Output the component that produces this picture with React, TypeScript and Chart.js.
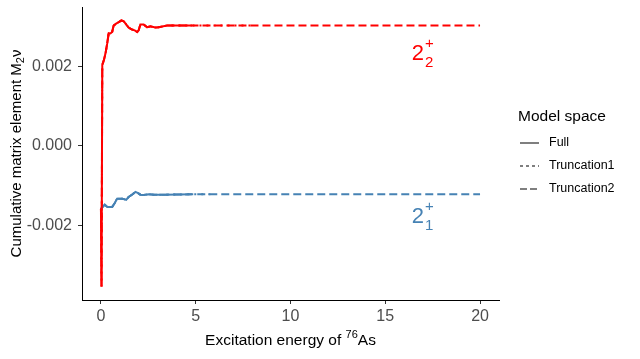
import React, { useEffect, useRef } from "react";
import { Chart, registerables } from "chart.js";

Chart.register(...registerables);

const RED = "#FF0000";
const BLUE = "#4682B4";
const FONT = "'Liberation Sans', Arial, sans-serif";

// 2_2^+ state (red)
const redEnergy = [0, 0.03, 0.07, 0.15, 0.24, 0.33, 0.41, 0.5, 0.59, 0.67, 0.8, 0.94, 1.08, 1.2, 1.33, 1.46, 1.64, 1.78, 1.91, 1.99, 2.08, 2.25, 2.43, 2.61, 2.87, 3.04, 3.48, 4.8];
const redFull = [-0.00158, -0.00355, 0.00205, 0.00216, 0.00234, 0.00259, 0.00285, 0.00284, 0.00288, 0.00304, 0.00309, 0.00313, 0.00317, 0.00315, 0.00307, 0.00299, 0.00294, 0.00292, 0.00288, 0.00292, 0.00307, 0.00307, 0.003, 0.00302, 0.00299, 0.003, 0.00304, 0.00304];
const redTruncEnd = [8, 20]; // Truncation1, Truncation2 last energies
const redTruncValue = [0.00304, 0.00304];

// 2_1^+ state (blue)
const blueEnergy = [0, 0.2, 0.33, 0.59, 0.73, 0.85, 1.12, 1.33, 1.46, 1.64, 1.82, 1.96, 2.08, 2.25, 2.52, 2.78, 3.04, 3.39, 4.8];
const blueFull = [-0.00159, -0.00148, -0.00154, -0.00154, -0.00144, -0.00133, -0.00133, -0.00136, -0.00129, -0.00123, -0.00116, -0.00119, -0.00123, -0.00124, -0.00122, -0.00123, -0.00123, -0.00123, -0.00122];
const blueTruncEnd = [6, 20];
const blueTruncValue = [-0.00122, -0.00122];

const xTicks = [0, 5, 10, 15, 20];
const yTicks = [-0.002, 0, 0.002];
const yTickLabels = ["-0.002", "0.000", "0.002"];

const legendLabels = ["Full", "Truncation1", "Truncation2"];
const legendDashes: number[][] = [[], [3, 3], [7, 3]];
const lineDashes: number[][] = [[], [2, 5], [8, 4]];

const stateLabelEnergy = 16.4;
const redLabelValue = 0.00216;
const blueLabelValue = -0.00194;

function pts(xs: number[], ys: number[]) {
  return xs.map((x, i) => ({ x, y: ys[i] }));
}

const overlay = {
  id: "overlay",
  afterDraw(chart: any) {
    const ctx = chart.ctx as CanvasRenderingContext2D;
    const xs = chart.scales.x;
    const ys = chart.scales.y;
    ctx.save();

    // state labels
    const drawState = (color: string, sub: string, value: number) => {
      const px = xs.getPixelForValue(stateLabelEnergy);
      const py = ys.getPixelForValue(value);
      ctx.fillStyle = color;
      ctx.textAlign = "left";
      ctx.textBaseline = "alphabetic";
      ctx.font = `22px ${FONT}`;
      ctx.fillText("2", px, py);
      const w = ctx.measureText("2").width;
      ctx.font = `15px ${FONT}`;
      ctx.fillText("+", px + w + 1, py - 12);
      ctx.fillText(sub, px + w + 1, py + 7);
    };
    drawState(RED, "2", redLabelValue);
    drawState(BLUE, "1", blueLabelValue);

    // x title
    ctx.fillStyle = "#000";
    ctx.textBaseline = "alphabetic";
    const p1 = "Excitation energy of ";
    const p2 = "76";
    const p3 = "As";
    ctx.font = `15.5px ${FONT}`;
    const w1 = ctx.measureText(p1).width;
    const w3 = ctx.measureText(p3).width;
    ctx.font = `11px ${FONT}`;
    const w2 = ctx.measureText(p2).width;
    const cx = (chart.chartArea.left + chart.chartArea.right) / 2;
    const sx = cx - (w1 + w2 + w3) / 2;
    const by = 345;
    ctx.font = `15.5px ${FONT}`;
    ctx.fillText(p1, sx, by);
    ctx.font = `11px ${FONT}`;
    ctx.fillText(p2, sx + w1, by - 7);
    ctx.font = `15.5px ${FONT}`;
    ctx.fillText(p3, sx + w1 + w2, by);

    // y title
    ctx.save();
    const cy = (chart.chartArea.top + chart.chartArea.bottom) / 2;
    ctx.translate(21, cy);
    ctx.rotate(-Math.PI / 2);
    const q1 = "Cumulative matrix element M";
    const q2 = "2";
    const q3 = "ν";
    ctx.font = `15px ${FONT}`;
    const v1 = ctx.measureText(q1).width;
    const v3 = ctx.measureText(q3).width;
    ctx.font = `11px ${FONT}`;
    const v2 = ctx.measureText(q2).width;
    const tx = -(v1 + v2 + v3) / 2;
    ctx.font = `15px ${FONT}`;
    ctx.fillText(q1, tx, 0);
    ctx.font = `11px ${FONT}`;
    ctx.fillText(q2, tx + v1, 3);
    ctx.font = `15px ${FONT}`;
    ctx.fillText(q3, tx + v1 + v2, 0);
    ctx.restore();

    // legend
    ctx.fillStyle = "#000";
    ctx.font = `15.5px ${FONT}`;
    ctx.textBaseline = "alphabetic";
    ctx.fillText("Model space", 518, 121);
    const rowY = [143, 166, 189];
    ctx.font = `12.5px ${FONT}`;
    ctx.textBaseline = "middle";
    legendLabels.forEach((lab, i) => {
      ctx.strokeStyle = "#7F7F7F";
      ctx.lineWidth = 2;
      ctx.setLineDash(legendDashes[i]);
      ctx.beginPath();
      ctx.moveTo(520, rowY[i]);
      ctx.lineTo(539, rowY[i]);
      ctx.stroke();
      ctx.setLineDash([]);
      ctx.fillStyle = "#000";
      ctx.fillText(lab, 549, rowY[i]);
    });
    ctx.restore();
  },
};

export default function App() {
  const ref = useRef<HTMLCanvasElement>(null);
  useEffect(() => {
    if (!ref.current) return;
    const common = { pointRadius: 0, borderWidth: 2, tension: 0, fill: false };
    const chart = new Chart(ref.current, {
      type: "line",
      data: {
        datasets: [
          { ...common, label: "Full 2_2", data: pts(redEnergy, redFull), borderColor: RED },
          { ...common, label: "Full 2_1", data: pts(blueEnergy, blueFull), borderColor: BLUE },
          { ...common, label: "T1 2_2", data: pts([...redEnergy, redTruncEnd[0]], [...redFull, redTruncValue[0]]), borderColor: RED, borderDash: lineDashes[1] },
          { ...common, label: "T1 2_1", data: pts([...blueEnergy, blueTruncEnd[0]], [...blueFull, blueTruncValue[0]]), borderColor: BLUE, borderDash: lineDashes[1] },
          { ...common, label: "T2 2_2", data: pts([...redEnergy, redTruncEnd[1]], [...redFull, redTruncValue[1]]), borderColor: RED, borderDash: lineDashes[2] },
          { ...common, label: "T2 2_1", data: pts([...blueEnergy, blueTruncEnd[1]], [...blueFull, blueTruncValue[1]]), borderColor: BLUE, borderDash: lineDashes[2] },
        ],
      },
      options: {
        animation: false,
        responsive: false,
        maintainAspectRatio: false,
        layout: { padding: { left: 0, top: 7, right: 141, bottom: 0 } },
        plugins: { legend: { display: false }, tooltip: { enabled: false } },
        scales: {
          x: {
            type: "linear",
            min: -1,
            max: 21,
            afterBuildTicks: (s: any) => {
              s.ticks = xTicks.map((v) => ({ value: v }));
            },
            afterFit: (s: any) => {
              s.height = 59;
              s.paddingLeft = 0;
              s.paddingRight = 0;
            },
            ticks: {
              font: { family: FONT, size: 16 },
              color: "#4D4D4D",
              padding: 3,
              maxRotation: 0,
              autoSkip: false,
              callback: (v: any) => String(v),
            },
            grid: { drawOnChartArea: false, drawTicks: true, tickLength: 4, color: "#333333", lineWidth: 1 },
            border: { display: true, color: "#000000", width: 1 },
          },
          y: {
            type: "linear",
            min: -0.00389,
            max: 0.00351,
            afterBuildTicks: (s: any) => {
              s.ticks = yTicks.map((v) => ({ value: v }));
            },
            afterFit: (s: any) => {
              s.width = 82;
              s.paddingTop = 0;
              s.paddingBottom = 0;
            },
            ticks: {
              font: { family: FONT, size: 16 },
              color: "#4D4D4D",
              padding: 6,
              autoSkip: false,
              callback: (v: any) => {
                const i = yTicks.indexOf(v);
                return i >= 0 ? yTickLabels[i] : "";
              },
            },
            grid: { drawOnChartArea: false, drawTicks: true, tickLength: 4, color: "#333333", lineWidth: 1 },
            border: { display: true, color: "#000000", width: 1 },
          },
        },
      },
      plugins: [overlay],
    } as any);
    return () => chart.destroy();
  }, []);
  return (
    <div style={{ position: "absolute", left: 0, top: 0, width: 640, height: 359, background: "#fff" }}>
      <canvas ref={ref} width={640} height={359} style={{ width: 640, height: 359 }} />
    </div>
  );
}
